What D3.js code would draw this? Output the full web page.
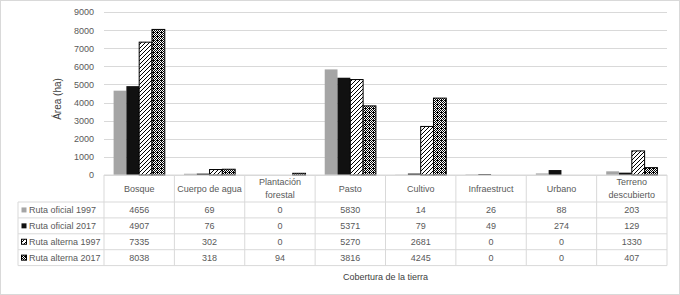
<!DOCTYPE html>
<html>
<head>
<meta charset="utf-8">
<script src="https://cdn.jsdelivr.net/npm/d3@7"></script>
<style>
  body { margin: 0; background: #fff; }
  svg { display: block; font-family: "Liberation Sans", Arial, sans-serif; }
</style>
</head>
<body>
<div id="chart"></div>
<script>
//chart data
let categories = ["Bosque", "Cuerpo de agua", "Plantación forestal", "Pasto", "Cultivo", "Infraestruct", "Urbano", "Terreno descubierto"]
let categoryLines = [["Bosque"], ["Cuerpo de agua"], ["Plantación", "forestal"], ["Pasto"], ["Cultivo"], ["Infraestruct"], ["Urbano"], ["Terreno", "descubierto"]]
let seriesNames = ["Ruta oficial 1997", "Ruta oficial 2017", "Ruta alterna 1997", "Ruta alterna 2017"]
let oficial1997 = [4656, 69, 0, 5830, 14, 26, 88, 203]
let oficial2017 = [4907, 76, 0, 5371, 79, 49, 274, 129]
let alterna1997 = [7335, 302, 0, 5270, 2681, 0, 0, 1330]
let alterna2017 = [8038, 318, 94, 3816, 4245, 0, 0, 407]
let yTicks = [0, 1000, 2000, 3000, 4000, 5000, 6000, 7000, 8000, 9000]

let seriesValues = [oficial1997, oficial2017, alterna1997, alterna2017]
let seriesFills = ["#a5a5a5", "#111111", "url(#hatch)", "url(#checker)"]
let seriesStrokes = ["none", "none", "#000", "#000"]

let width = 680
let height = 295
let plotLeft = 104
let plotRight = 667
let plotTop = 12
let plotBottom = 175
let headerBottom = 202
let rowHeight = 15.9
let legendLeft = 18
let textColor = "#595959"
let lineColor = "#d9d9d9"

let svg = d3.select("#chart")
  .append("svg")
  .attr("width", width)
  .attr("height", height)

//patterns
let defs = svg.append("defs")
let hatch = defs.append("pattern")
  .attr("id", "hatch")
  .attr("patternUnits", "userSpaceOnUse")
  .attr("width", 4)
  .attr("height", 4)
hatch.append("rect").attr("width", 4).attr("height", 4).attr("fill", "#fff")
hatch.append("path")
  .attr("d", "M-1,1 l2,-2 M0,4 l4,-4 M3,5 l2,-2")
  .attr("stroke", "#000")
  .attr("stroke-width", 1)

//fine checker board, a bit darker than 50%
let checker = defs.append("pattern")
  .attr("id", "checker")
  .attr("patternUnits", "userSpaceOnUse")
  .attr("width", 4)
  .attr("height", 4)
checker.append("rect").attr("width", 4).attr("height", 4).attr("fill", "#fff")
let checkCells = [[0,0],[2,0],[1,1],[3,1],[0,2],[2,2],[1,3],[3,3],[1,0]]
checker.selectAll("rect.cell")
  .data(checkCells)
  .enter()
  .append("rect")
  .attr("class", "cell")
  .attr("x", d => d[0])
  .attr("y", d => d[1])
  .attr("width", 1)
  .attr("height", 1)
  .attr("fill", "#000")

//outer frame
svg.append("rect")
  .attr("x", 0.5)
  .attr("y", 0.5)
  .attr("width", width - 1)
  .attr("height", height - 1)
  .attr("fill", "#fff")
  .attr("stroke", lineColor)

//scales
let x0 = d3.scaleBand()
  .domain(categories)
  .range([plotLeft, plotRight])
  .padding(0)

let x1 = d3.scaleBand()
  .domain(d3.range(seriesNames.length))
  .range([0, x0.bandwidth()])
  .paddingInner(0)
  .paddingOuter(0.75)

let y = d3.scaleLinear()
  .domain([0, 9000])
  .range([plotBottom, plotTop])

//gridlines and tick labels
let yAxis = svg.append("g")
  .attr("transform", "translate(" + plotLeft + ",0)")
  .call(d3.axisLeft(y).tickValues(yTicks).tickFormat(d3.format("d")).tickSize(-(plotRight - plotLeft)).tickPadding(10))
yAxis.select(".domain").remove()
yAxis.selectAll(".tick line")
  .attr("stroke", lineColor)
  .attr("shape-rendering", "crispEdges")
yAxis.selectAll(".tick text")
  .attr("fill", textColor)
  .style("font-size", "9px")
  .style("font-family", "'Liberation Sans', Arial, sans-serif")

//axis title
svg.append("text")
  .text("Área (ha)")
  .attr("transform", "translate(61,99) rotate(-90)")
  .style("text-anchor", "middle")
  .style("font-size", "10px")
  .attr("fill", "#404040")

//bars
seriesValues.forEach(function(values, s){
  svg.append("g")
    .selectAll("rect")
    .data(values)
    .enter()
    .append("rect")
    .attr("x", (d, i) => x0(categories[i]) + x1(s))
    .attr("y", d => y(d))
    .attr("width", x1.bandwidth())
    .attr("height", d => plotBottom - y(d))
    .attr("fill", seriesFills[s])
    .attr("stroke", d => d > 0 ? seriesStrokes[s] : "none")
    .attr("stroke-width", 1)
})

//data table
let table = svg.append("g")
let rowsBottom = headerBottom + rowHeight * seriesNames.length

//horizontal lines
table.append("line")
  .attr("x1", plotLeft).attr("x2", plotRight)
  .attr("y1", plotBottom).attr("y2", plotBottom)
  .attr("stroke", lineColor)
d3.range(seriesNames.length + 1).forEach(function(r){
  table.append("line")
    .attr("x1", legendLeft).attr("x2", plotRight)
    .attr("y1", headerBottom + r * rowHeight).attr("y2", headerBottom + r * rowHeight)
    .attr("stroke", lineColor)
})

//vertical lines
table.selectAll(".colLine")
  .data(categories.concat(["end"]))
  .enter()
  .append("line")
  .attr("x1", (d, i) => plotLeft + i * x0.step())
  .attr("x2", (d, i) => plotLeft + i * x0.step())
  .attr("y1", plotBottom)
  .attr("y2", rowsBottom)
  .attr("stroke", lineColor)
table.append("line")
  .attr("x1", legendLeft).attr("x2", legendLeft)
  .attr("y1", headerBottom).attr("y2", rowsBottom)
  .attr("stroke", lineColor)

//header labels
categoryLines.forEach(function(lines, i){
  let cx = x0(categories[i]) + x0.bandwidth() / 2
  let startY = (plotBottom + headerBottom) / 2 - (lines.length - 1) * 6.3
  lines.forEach(function(line, j){
    table.append("text")
      .text(line)
      .attr("x", cx)
      .attr("y", startY + j * 12.6)
      .attr("dy", "0.35em")
      .style("text-anchor", "middle")
      .style("font-size", "9px")
      .attr("fill", textColor)
  })
})

//rows
seriesNames.forEach(function(name, s){
  let cy = headerBottom + s * rowHeight + rowHeight / 2

  table.append("rect")
    .attr("x", 21.5)
    .attr("y", cy - 2.5)
    .attr("width", 5)
    .attr("height", 5)
    .attr("fill", seriesFills[s])
    .attr("stroke", seriesStrokes[s])

  table.append("text")
    .text(name)
    .attr("x", 29)
    .attr("y", cy)
    .attr("dy", "0.35em")
    .style("font-size", "9px")
    .attr("fill", textColor)

  table.append("g")
    .selectAll("text")
    .data(seriesValues[s])
    .enter()
    .append("text")
    .text(d => d)
    .attr("x", (d, i) => x0(categories[i]) + x0.bandwidth() / 2)
    .attr("y", cy)
    .attr("dy", "0.35em")
    .style("text-anchor", "middle")
    .style("font-size", "9px")
    .attr("fill", textColor)
})

//x axis title
svg.append("text")
  .text("Cobertura de la tierra")
  .attr("x", (plotLeft + plotRight) / 2)
  .attr("y", 277)
  .attr("dy", "0.35em")
  .style("text-anchor", "middle")
  .style("font-size", "9px")
  .attr("fill", "#404040")
</script>
</body>
</html>
